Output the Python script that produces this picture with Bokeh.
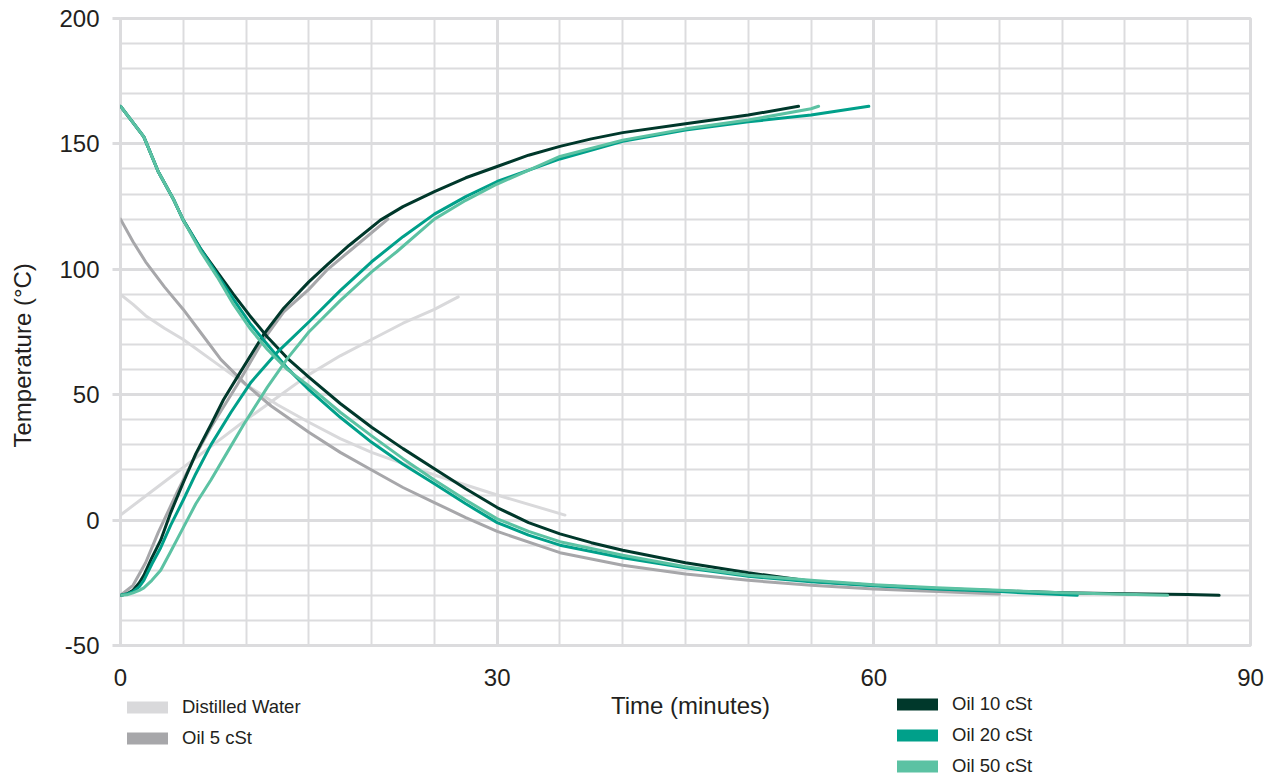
from bokeh.plotting import figure
from bokeh.models import Range1d, FixedTicker, Legend, LegendItem, Label
from bokeh.layouts import column
from bokeh.embed import file_html
from bokeh.resources import INLINE

# ---------------- data ----------------
series_names = ["Distilled Water", "Oil 5 cSt", "Oil 10 cSt", "Oil 20 cSt", "Oil 50 cSt"]
series_colors = ["#d9d9db", "#a7a7aa", "#00382b", "#00a08a", "#5cc2a3"]

water_cool_t = [0, 1, 2, 3.5, 5, 7.5, 10, 12.5, 15, 17.5, 20, 25, 30, 35.4]
water_cool_T = [90, 86, 81.5, 76.5, 72, 63, 54, 46, 39, 32.5, 27, 18, 10, 2]
water_heat_t = [0, 2.5, 5, 7.5, 10, 12.5, 15, 17.5, 20, 22.5, 25, 26.9]
water_heat_T = [2, 11.5, 21, 30.5, 40, 49, 58, 65.5, 72, 78.5, 84, 89]

oil5_cool_t = [0, 1, 2, 3.5, 5, 6.5, 8, 10, 12, 15, 17.5, 20, 22.5, 25, 27.5, 30, 35, 40, 45, 50, 55, 60, 65, 70]
oil5_cool_T = [120, 111, 103, 93, 84, 74, 64, 54, 45.5, 35, 27, 20, 13, 7, 1, -4.5, -13, -18, -21.5, -24, -26, -27.5, -28.5, -29.5]
oil5_heat_t = [0, 1, 2, 3, 4.5, 6, 7.2, 9.3, 11.4, 13, 15, 16.5, 18.3, 21.3]
oil5_heat_T = [-30, -26, -17, -5, 11, 26, 37, 54, 72, 83, 92, 100, 107.5, 120]

oil10_cool_t = [0, 1, 1.86, 3, 4.25, 5, 6.4, 7.7, 9, 10.3, 11.7, 13.3, 15, 17.5, 20, 22.5, 25, 27.5, 30, 32.5,
                35, 37.5, 40, 45, 50, 55, 60, 65, 70, 75, 80, 85, 87.5]
oil10_cool_T = [165, 158.5, 152.8, 139, 127.6, 119.6, 108, 99, 90, 81.5, 73, 64.5, 57, 46.5, 37, 28.5, 20.5, 12.5, 5, -1,
                -5.5, -9, -12, -17, -21, -24.4, -26, -27.3, -28.2, -29, -29.4, -29.7, -30]
oil10_heat_t = [0, 0.5, 1, 1.5, 1.86, 2.5, 3.2, 4, 5, 6, 7.2, 8.2, 9.3, 11.4, 13, 15, 16.5, 18.2, 20.7, 22.5, 25,
                27.5, 30, 32.5, 35, 37.5, 40, 45, 50, 54]
oil10_heat_T = [-30, -29.5, -28, -25, -22, -15, -8, 3, 15, 26.5, 38, 48, 57, 74, 84.5, 95, 102, 109.5, 119.6, 125, 131,
                136.5, 141, 145.5, 149, 152, 154.5, 158, 161.5, 165]

oil20_cool_t = [0, 1, 1.86, 3, 4.25, 5, 6.4, 7.7, 9, 10.3, 11.7, 13.3, 15, 17.5, 20, 22.5, 25, 27.5, 30, 32.5,
                35, 40, 45, 50, 55, 60, 65, 70, 76.2]
oil20_cool_T = [165, 158.5, 152.8, 139, 127.6, 119.6, 108, 98, 88, 78.5, 70, 60.5, 52, 41, 31, 22.3, 14.5, 6.5, -1, -6,
                -10, -15, -19, -22.4, -24.6, -26.2, -27.5, -28.5, -30]
oil20_heat_t = [0, 0.5, 1, 1.5, 1.86, 2.5, 3.2, 4, 5, 6, 7.2, 8.8, 10.4, 12.5, 15, 17.5, 20, 22.5, 25, 27.5, 30,
                35, 40, 45, 50, 55, 59.6]
oil20_heat_T = [-30, -29.5, -28.5, -26.5, -24, -17.5, -11, -2, 8, 18.5, 30, 43, 55, 67, 79, 91.5, 103, 113, 122, 129, 135,
                144, 151, 155.5, 158.8, 161.5, 165]

oil50_cool_t = [0, 1, 1.86, 3, 4.25, 5, 6.4, 7.7, 9, 10.3, 11.7, 13.3, 15, 17.5, 20, 22.5, 25, 27.5, 30, 32.5,
                35, 40, 45, 50, 55, 60, 65, 70, 75, 80, 83.4]
oil50_cool_T = [165, 158.5, 152.8, 139, 127.6, 119.6, 107, 97, 86, 76.5, 68, 60, 53.5, 43, 33.6, 24.5, 16, 8, 0.5, -4.5,
                -8.6, -14, -18.6, -22, -24, -25.8, -27, -28, -29, -29.6, -30]
oil50_heat_t = [0, 0.5, 1, 1.5, 1.86, 2.5, 3.2, 4, 5, 6, 7.2, 8.5, 9.8, 11.7, 13.3, 15, 17.5, 20, 22, 25, 27.5, 30,
                35, 40, 45, 50, 55, 55.6]
oil50_heat_T = [-30, -29.8, -29, -28, -27, -24, -20, -12.5, -3, 6.5, 16, 27, 38, 53, 64.5, 75, 87.5, 99, 107, 120, 127.5, 134,
                145, 151.5, 156, 159.5, 164, 165]

x_ticks = [0, 30, 60, 90]
x_minor = list(range(0, 91, 5))
y_ticks = [-50, 0, 50, 100, 150, 200]
y_minor = list(range(-50, 201, 10))
y_tick_text = {-50: "-50"}

x_title = "Time (minutes)"
y_title = "Temperature (°C)"

curves = [
    (water_cool_t, water_cool_T, water_heat_t, water_heat_T),
    (oil5_cool_t, oil5_cool_T, oil5_heat_t, oil5_heat_T),
    (oil10_cool_t, oil10_cool_T, oil10_heat_t, oil10_heat_T),
    (oil20_cool_t, oil20_cool_T, oil20_heat_t, oil20_heat_T),
    (oil50_cool_t, oil50_cool_T, oil50_heat_t, oil50_heat_T),
]

# ---------------- main figure ----------------
GRID = "#dcdcde"
TEXT = "#231f20"
FONT = "Liberation Sans"

p = figure(width=1274, height=693, output_backend="svg", toolbar_location=None,
           x_range=Range1d(0, 90), y_range=Range1d(-50, 200),
           min_border_left=120, min_border_right=24, min_border_top=18, min_border_bottom=48,
           background_fill_color="white", border_fill_color="white")

p.outline_line_color = GRID
p.outline_line_width = 3

p.xaxis.ticker = FixedTicker(ticks=x_ticks, minor_ticks=x_minor)
p.yaxis.ticker = FixedTicker(ticks=y_ticks, minor_ticks=y_minor)
p.yaxis.major_label_overrides = y_tick_text

for g in (p.xgrid, p.ygrid):
    g.grid_line_color = GRID
    g.grid_line_width = 3
    g.minor_grid_line_color = GRID
    g.minor_grid_line_width = 2

for ax in (p.xaxis, p.yaxis):
    ax.axis_line_color = None
    ax.minor_tick_line_color = None
    ax.major_label_text_font = FONT
    ax.major_label_text_font_size = "24px"
    ax.major_label_text_color = TEXT
    ax.axis_label_text_font = FONT
    ax.axis_label_text_font_size = "24px"
    ax.axis_label_text_color = TEXT
    ax.axis_label_text_font_style = "normal"

p.xaxis.major_tick_line_color = None
p.xaxis.major_tick_out = 0
p.xaxis.major_tick_in = 0
p.xaxis.major_label_standoff = 19

p.yaxis.major_tick_line_color = GRID
p.yaxis.major_tick_line_width = 3
p.yaxis.major_tick_out = 8
p.yaxis.major_tick_in = 0
p.yaxis.major_label_standoff = 13
p.yaxis.axis_label = y_title + "\u00a0" * 7
p.yaxis.axis_label_standoff = 20

for (ct, cT, ht, hT), color in zip(curves, series_colors):
    p.line(ct, cT, line_color=color, line_width=3, line_join="round", line_cap="round")
    p.line(ht, hT, line_color=color, line_width=3, line_join="round", line_cap="round")

# ---------------- strip below: x title + legends ----------------
# its frame is aligned with the main frame (page x 120..1250), so the x range is in page pixels
p2 = figure(width=1274, height=85, output_backend="svg", toolbar_location=None,
            x_range=Range1d(120, 1250), y_range=Range1d(0, 85),
            x_axis_location=None, y_axis_location=None, min_border=0,
            background_fill_color="white", border_fill_color="white")
p2.outline_line_color = None
p2.xgrid.visible = False
p2.ygrid.visible = False

p2.add_layout(Label(x=690, y=73, text=x_title, text_align="center", text_baseline="middle",
                    text_font=FONT, text_font_size="24px", text_color=TEXT))

nan = float("nan")
proxies = []
for color in series_colors:
    r = p2.line(x=[nan, nan], y=[nan, nan], line_color=color, line_width=12, line_cap="round")
    proxies.append(r)

def make_legend(idx, loc):
    return Legend(items=[LegendItem(label=series_names[i], renderers=[proxies[i]]) for i in idx],
                  location=loc, orientation="vertical",
                  glyph_width=41, glyph_height=20, label_height=20, spacing=9,
                  label_standoff=14, padding=0, margin=0,
                  border_line_color=None, background_fill_alpha=0,
                  label_text_font=FONT, label_text_font_size="18.5px",
                  label_text_color=TEXT)

p2.add_layout(make_legend([0, 1], (7, 29)), "center")
p2.add_layout(make_legend([2, 3, 4], (777, 1)), "center")

layout = column(p, p2, spacing=0)
open("out.html", "w").write(file_html(layout, INLINE))
